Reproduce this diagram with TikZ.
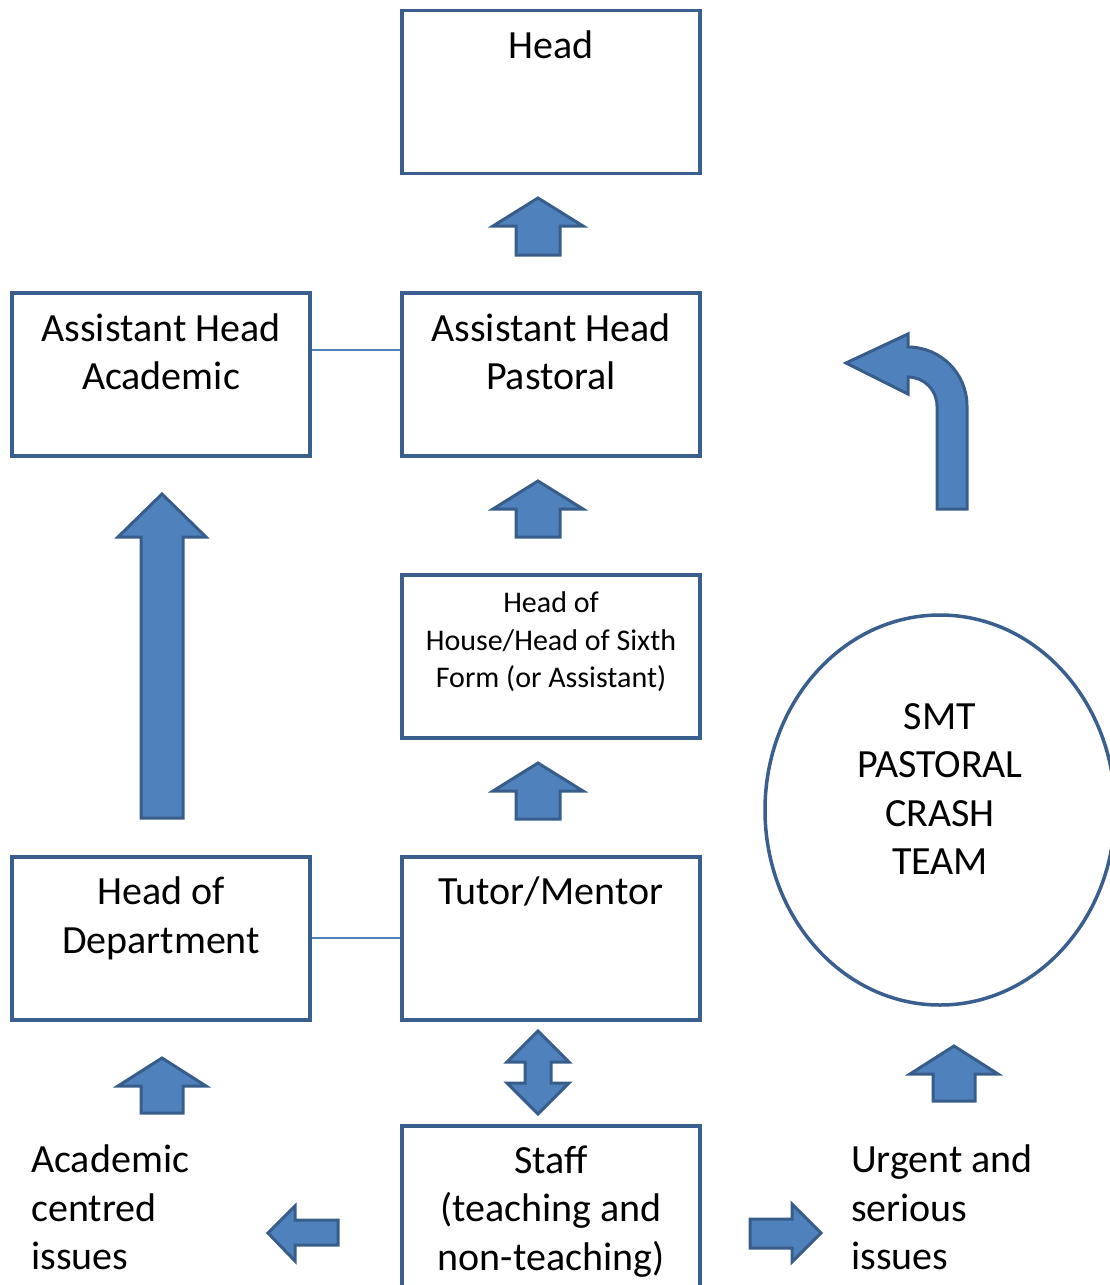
\documentclass[tikz,border=0pt]{standalone}
\usepackage{fontspec}
\setmainfont{Carlito}
\usetikzlibrary{calc,shapes.geometric}
\definecolor{afill}{HTML}{4F81BD}
\definecolor{aline}{HTML}{385D8A}
\definecolor{bline}{HTML}{3A5F8E}
\newcommand{\BlockUp}[7]{% cx, tip, headbase, bottom, halfhead, halfshaft, extra opts
  \draw[blockarrow,#7] (#1,#2) -- (#1+#5,#3) -- (#1+#6,#3) -- (#1+#6,#4) -- (#1-#6,#4) -- (#1-#6,#3) -- (#1-#5,#3) -- cycle;}
\begin{document}
\begin{tikzpicture}[x=1pt,y=-1pt,
  box/.style={draw=bline,line width=3.5pt,fill=white,minimum width=298pt,minimum height=163pt,inner sep=0pt},
  big/.style={font=\fontsize{40}{48.5}\selectfont,align=center,inner sep=0pt},
  small/.style={font=\fontsize{30}{37.5}\selectfont,align=center,inner sep=0pt},
  free/.style={font=\fontsize{40}{48.5}\selectfont,align=left,inner sep=0pt,anchor=north west},
  link/.style={draw=afill,line width=2pt},
  blockarrow/.style={fill=afill,draw=aline,line width=3pt,line join=miter}]
\useasboundingbox (0,0) rectangle (1110,1285);
\clip (0,0) rectangle (1110,1285);
% boxes
\node[box] (head) at (551,92) {};
\node[box] (aha) at (161,374.5) {};
\node[box] (ahp) at (551,374.5) {};
\node[box] (hoh) at (551,656.5) {};
\node[box] (hod) at (161,938.5) {};
\node[box] (tut) at (551,938.5) {};
\node[box,minimum height=175pt] (staff) at (551,1213.5) {};
\node[draw=bline,line width=3.5pt,ellipse,minimum width=350pt,minimum height=390pt,inner sep=0pt] (smt) at (940,810) {};
% connectors
\draw[link] (aha.east |- 0,350) -- (ahp.west |- 0,350);
\draw[link] (hod.east |- 0,938) -- (tut.west |- 0,938);
% texts
\node[big] (thead) at (551,45) {Head};
\node[big] (taha) at (161,352) {Assistant Head\\Academic};
\node[big] (tahp) at (551,352) {Assistant Head\\Pastoral};
\node[small] (thoh) at (551,642) {Head of\\House/Head of Sixth\\Form (or Assistant)};
\node[big] (thod) at (161,918.5) {Head of\\Department};
\node[big] (ttut) at (551,891) {Tutor/Mentor};
\node[big] (tstaff) at (551,1211.5) {Staff\\(teaching and\\non-teaching)};
\node[big] (tsmt) at (940,789) {SMT\\PASTORAL\\CRASH\\TEAM};
\node[free] (tacad) at (31,1145) {Academic\\centred\\issues};
\node[free] (turg) at (851,1145) {Urgent and\\serious\\issues};
% block arrows
\BlockUp{538}{198}{226}{255}{45}{22}{}
\BlockUp{538}{481}{509}{537}{45}{22}{}
\BlockUp{538}{763}{791}{819}{45}{22}{}
\BlockUp{162}{494}{537}{818}{44}{21}{}
\BlockUp{162}{1058}{1086}{1113}{44}{21}{}
\BlockUp{954}{1046}{1074}{1101}{44}{21}{}
% double arrow
\draw[blockarrow] (538,1031) -- (569,1062) -- (551,1062) -- (551,1083) -- (569,1083) -- (538,1114)
  -- (507,1083) -- (525,1083) -- (525,1062) -- (507,1062) -- cycle;
% left arrow
\draw[blockarrow] (268,1233) -- (295,1206) -- (295,1220) -- (338,1220) -- (338,1245) -- (295,1245) -- (295,1261) -- cycle;
% right arrow
\draw[blockarrow] (821,1233) -- (792,1204) -- (792,1219) -- (750,1219) -- (750,1248) -- (792,1248) -- (792,1262) -- cycle;
% curved arrow
\draw[blockarrow] (846,363) -- (908,334) -- (908,347) arc[start angle=-90,end angle=0,radius=59]
  -- (967,509) -- (937,509) -- (937,406) arc[start angle=0,end angle=-90,radius=29]
  -- (908,394) -- cycle;
\end{tikzpicture}
\end{document}
